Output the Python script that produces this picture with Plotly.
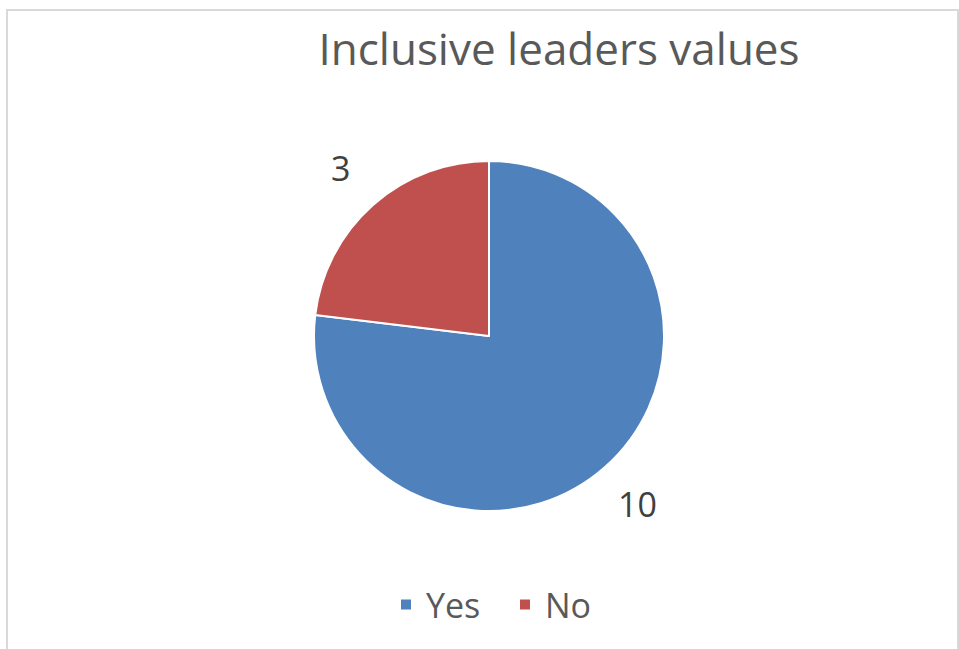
import math
import plotly.graph_objects as go

labels = ["Yes", "No"]
values = [10, 3]
colors = ["#4F81BD", "#C0504D"]
title_text = "Inclusive leaders values"

W, H = 959, 649
cx, cy, R = 489, 336, 175

fig = go.Figure()
fig.add_trace(go.Pie(
    labels=labels, values=values, sort=False, direction="clockwise", rotation=0,
    marker=dict(colors=colors, line=dict(color="white", width=2)),
    textinfo="none", hoverinfo="label+value",
    domain=dict(x=[(cx - R) / W, (cx + R) / W], y=[1 - (cy + R) / H, 1 - (cy - R) / H]),
    showlegend=True,
))

# data labels placed outside each slice along its mid-angle
total = sum(values)
cum = 0
anns = []
for lab, v in zip(labels, values):
    mid = (cum + v / 2) / total * 2 * math.pi
    cum += v
    rr = R * 1.28
    px = cx + rr * math.sin(mid)
    py = cy - rr * math.cos(mid)
    anns.append(dict(x=px / W, y=1 - py / H, xref="paper", yref="paper", text=str(v),
                     xanchor="center", yanchor="middle",
                     showarrow=False, font=dict(size=34, color="#404040", family="Open Sans")))

fig.update_layout(
    width=W, height=H,
    margin=dict(l=0, r=0, t=0, b=0),
    paper_bgcolor="white", plot_bgcolor="white",
    title=dict(text=title_text, x=559 / W, y=1 - 50 / H, xanchor="center", yanchor="middle",
               font=dict(size=44, color="#595959", family="Open Sans")),
    legend=dict(orientation="h", x=386 / W, y=1 - 605 / H, xanchor="left", yanchor="middle",
                font=dict(size=34, color="#595959", family="Open Sans"), itemwidth=30,
                entrywidth=74, entrywidthmode="pixels"),
    annotations=anns,
    shapes=[dict(type="rect", xref="paper", yref="paper", x0=7 / W, x1=958 / W,
                 y0=-0.1, y1=1 - 10 / H, line=dict(color="#D9D9D9", width=2), layer="below")],
)

fig.write_html("out.html")
